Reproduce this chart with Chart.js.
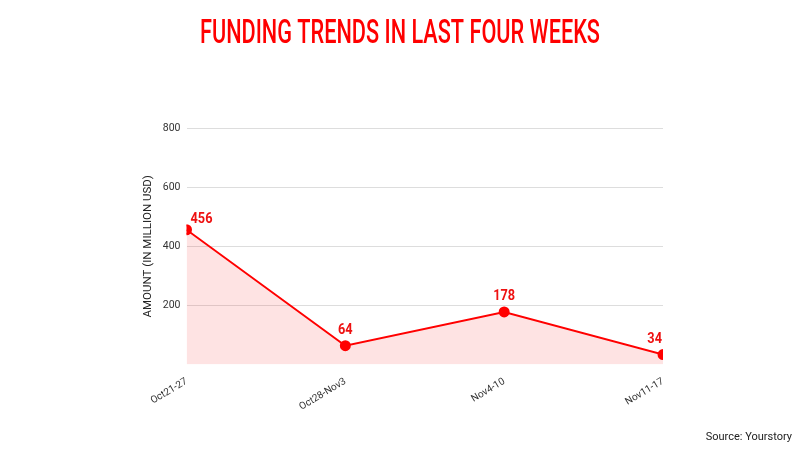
<!DOCTYPE html>
<html>
<head>
<meta charset="utf-8">
<script src="https://cdn.jsdelivr.net/npm/chart.js@4"></script>
<style>
  html, body { margin: 0; padding: 0; background: #fff; }
  #wrap { width: 800px; height: 450px; position: relative; }
</style>
</head>
<body>
<div id="wrap"><canvas id="fundingChart"></canvas></div>
<script>
// Chart data
const weeks = ['Oct21-27', 'Oct28-Nov3', 'Nov4-10', 'Nov11-17'];
const amounts = [456, 64, 178, 34];
const yTicks = [200, 400, 600, 800];

const RED = '#ff0000';
const TITLE = 'FUNDING TRENDS IN LAST FOUR WEEKS';
const SOURCE = 'Source: Yourstory';

// Draw condensed text by squeezing it horizontally
function drawNarrow(ctx, text, x, y, align, squeeze) {
    const w = ctx.measureText(text).width * squeeze;
    let left = x;
    if (align === 'center') left = x - w / 2;
    if (align === 'right') left = x - w;
    ctx.save();
    ctx.translate(left, y);
    ctx.scale(squeeze, 1);
    ctx.textAlign = 'left';
    ctx.fillText(text, 0, 0);
    ctx.restore();
}

// Title, source line and the value labels
const decorations = {
    id: 'decorations',
    afterDraw(chart) {
        const ctx = chart.ctx;
        ctx.save();

        // title
        ctx.fillStyle = RED;
        ctx.font = '500 33px Roboto, sans-serif';
        ctx.textBaseline = 'alphabetic';
        const tw = ctx.measureText(TITLE).width;
        drawNarrow(ctx, TITLE, 400, 43, 'center', 400 / tw);

        // source
        ctx.fillStyle = '#222';
        ctx.font = '11px Roboto, sans-serif';
        ctx.textAlign = 'right';
        ctx.fillText(SOURCE, 792, 440);

        // value labels
        const meta = chart.getDatasetMeta(0);
        ctx.fillStyle = '#ee1111';
        ctx.font = 'bold 15px Roboto, sans-serif';
        meta.data.forEach((pt, i) => {
            let x = pt.x, y = pt.y - 12, align = 'center';
            if (i === 0) { align = 'left'; x = pt.x + 4; y = pt.y - 7; }
            if (i === meta.data.length - 1) { align = 'right'; x = pt.x - 1; }
            drawNarrow(ctx, String(amounts[i]), x, y, align, 0.85);
        });
        ctx.restore();
    }
};

const ctx = document.getElementById('fundingChart');
new Chart(ctx, {
    type: 'line',
    data: {
        labels: weeks,
        datasets: [{
            data: amounts,
            borderColor: RED,
            borderWidth: 2,
            backgroundColor: 'rgba(250, 60, 60, 0.14)',
            fill: 'origin',
            tension: 0,
            clip: 0,
            pointRadius: 4.5,
            pointBackgroundColor: RED,
            pointBorderColor: RED
        }]
    },
    options: {
        responsive: true,
        maintainAspectRatio: false,
        animation: false,
        layout: {
            padding: { left: 137, right: 137, top: 128, bottom: 34 }
        },
        plugins: {
            legend: { display: false },
            tooltip: { enabled: false },
            title: { display: false }
        },
        scales: {
            x: {
                offset: false,
                grid: { display: false },
                border: { display: false },
                ticks: {
                    color: '#333',
                    font: { family: 'Roboto, sans-serif', size: 10 },
                    maxRotation: 31,
                    minRotation: 31,
                    padding: 3
                }
            },
            y: {
                min: 0,
                max: 800,
                afterBuildTicks(axis) {
                    axis.ticks = [0].concat(yTicks).map(v => ({ value: v }));
                },
                grid: {
                    color: c => c.tick && c.tick.value === 0 ? 'rgba(0,0,0,0)' : '#dddddd',
                    drawTicks: false
                },
                border: { display: false },
                ticks: {
                    color: '#333',
                    font: { family: 'Roboto, sans-serif', size: 10.5 },
                    padding: 6,
                    callback: v => v === 0 ? '' : v
                },
                title: {
                    display: true,
                    text: 'AMOUNT (IN MILLION USD)',
                    color: '#222',
                    font: { family: 'Roboto, sans-serif', size: 11.5 },
                    padding: { bottom: 2 }
                }
            }
        }
    },
    plugins: [decorations]
});
</script>
</body>
</html>
